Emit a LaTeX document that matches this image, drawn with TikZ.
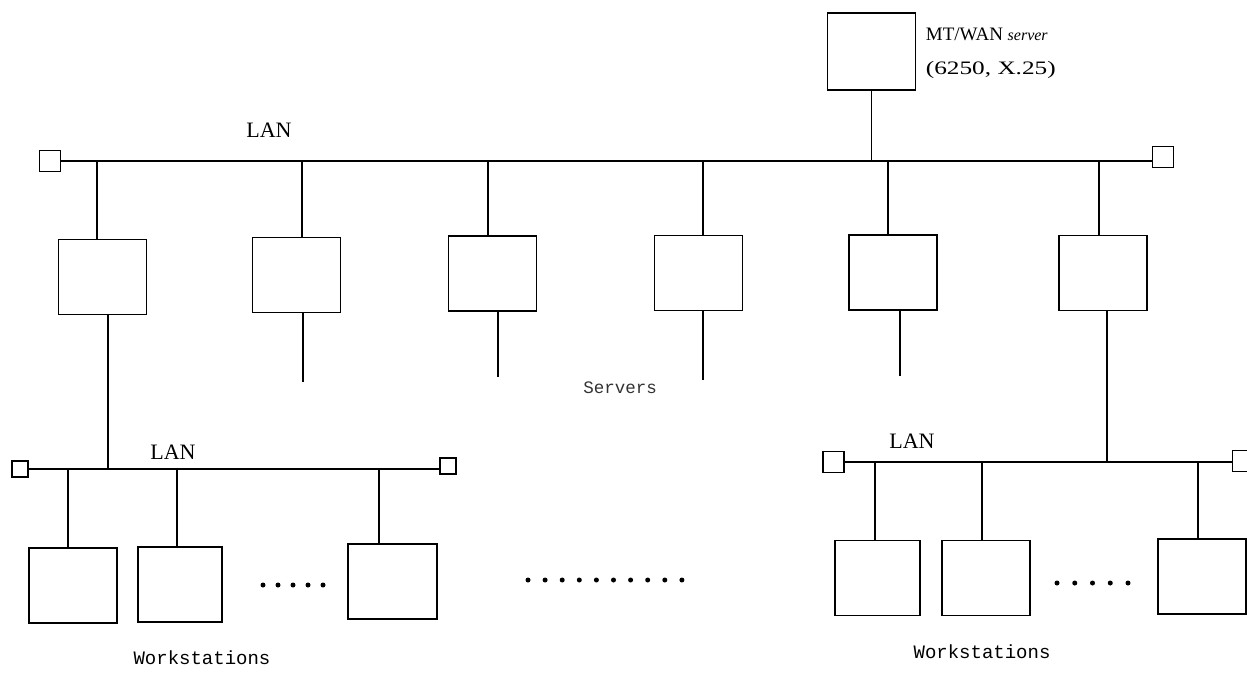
\documentclass[tikz,border=0pt]{standalone}
\usepackage{fontspec}
\setmainfont{Liberation Serif}
\newfontfamily\monofont{Liberation Mono}
\begin{document}
\begin{tikzpicture}[x=1pt,y=-1pt,
  line width=1.8pt,
  box/.style={draw, minimum width=88pt, minimum height=75pt, inner sep=0pt},
  term/.style={draw, minimum width=21pt, minimum height=21pt, inner sep=0pt, line width=1.5pt},
  termsmall/.style={term, minimum width=16pt, minimum height=16pt},
  lanlabel/.style={font=\fontsize{22}{24}\selectfont},
  wanlabel/.style={font=\fontsize{19}{20}\selectfont, anchor=base west, inner sep=0pt},
  grouplabel/.style={font=\monofont\fontsize{19}{20}\selectfont},
  dot/.style={circle, fill, inner sep=0pt, minimum size=5pt}]
\useasboundingbox (0,0) rectangle (1247,675);

% MT/WAN server
\node[box, minimum height=77pt] (wan) at (871.5,51.5) {};
\node[wanlabel] (wl1) at (925,40) {MT/WAN {\fontsize{16}{16}\selectfont\itshape server}};
\node[wanlabel] (wl2) at (925,74) {\scalebox{1.33}[1]{(6250, X.25)}};

% top LAN
\node[term] (t1l) at (50,161) {};
\node[term] (t1r) at (1163,157) {};
\draw (t1l.east) -- (t1l.east -| t1r.west);
\node[lanlabel] (lan1) at (269,130) {LAN};
\draw (wan.south) -- (wan.south |- t1l.east);

% servers
\node[box] (s1) at (102.5,277) {};
\node[box] (s2) at (296.5,275) {};
\node[box] (s3) at (492.5,273.5) {};
\node[box] (s4) at (698.5,273) {};
\node[box] (s5) at (893,272.5) {};
\node[box] (s6) at (1103,273) {};
\draw ([xshift=-5.5pt]s1.north) -- ([xshift=-5.5pt]s1.north |- t1l.east);
\draw ([xshift=5.5pt]s2.north) -- ([xshift=5.5pt]s2.north |- t1l.east);
\draw ([xshift=-4.5pt]s3.north) -- ([xshift=-4.5pt]s3.north |- t1l.east);
\draw ([xshift=4.5pt]s4.north) -- ([xshift=4.5pt]s4.north |- t1l.east);
\draw ([xshift=-5pt]s5.north) -- ([xshift=-5pt]s5.north |- t1l.east);
\draw ([xshift=-4pt]s6.north) -- ([xshift=-4pt]s6.north |- t1l.east);

\coordinate (s2b) at (303,382);
\coordinate (s3b) at (498,377);
\coordinate (s4b) at (703,380);
\coordinate (s5b) at (900,376);
\draw (s2.south -| s2b) -- (s2b);
\draw (s3.south -| s3b) -- (s3b);
\draw (s4.south -| s4b) -- (s4b);
\draw (s5.south -| s5b) -- (s5b);
\node[grouplabel, font=\monofont\fontsize{17.5}{18}\selectfont, text=black!80] (srv) at (620,388) {Servers};

% bottom-left LAN
\node[termsmall] (t2l) at (20,469) {};
\node[termsmall] (t2r) at (448,466) {};
\draw (t2l.east) -- (t2l.east -| t2r.west);
\node[lanlabel] (lan2) at (173,452) {LAN};
\draw ([xshift=5.5pt]s1.south) -- ([xshift=5.5pt]s1.south |- t2l.east);

\node[box] (w1) at (73,585.5) {};
\node[box, minimum width=84pt] (w2) at (180,584.5) {};
\node[box, minimum width=89pt] (w3) at (392.5,581.5) {};
\draw ([xshift=-5pt]w1.north) -- ([xshift=-5pt]w1.north |- t2l.east);
\draw ([xshift=-3pt]w2.north) -- ([xshift=-3pt]w2.north |- t2l.east);
\draw ([xshift=-13.5pt]w3.north) -- ([xshift=-13.5pt]w3.north |- t2l.east);
\foreach \i in {0,...,4} \node[dot] (dl\i) at (263+15*\i,585) {};
\node[grouplabel] (wsl) at (202,658) {Workstations};

% middle dots
\foreach \i in {0,...,9} \node[dot] (dm\i) at (528+17.1*\i,580) {};

% bottom-right LAN
\node[term] (t3l) at (833.5,462) {};
\node[term] (t3r) at (1243,461) {};
\draw (t3l.east) -- (t3l.east -| t3r.west);
\node[lanlabel] (lan3) at (912,441) {LAN};
\draw ([xshift=4pt]s6.south) -- ([xshift=4pt]s6.south |- t3l.east);

\node[box, minimum width=85pt] (w4) at (877.5,578) {};
\node[box] (w5) at (986,578) {};
\node[box] (w6) at (1202,576.5) {};
\draw ([xshift=-2.5pt]w4.north) -- ([xshift=-2.5pt]w4.north |- t3l.east);
\draw ([xshift=-4pt]w5.north) -- ([xshift=-4pt]w5.north |- t3l.east);
\draw ([xshift=-4pt]w6.north) -- ([xshift=-4pt]w6.north |- t3l.east);
\foreach \i in {0,...,4} \node[dot] (dr\i) at (1057+17.75*\i,583) {};
\node[grouplabel] (wsr) at (982,652) {Workstations};
\end{tikzpicture}
\end{document}
